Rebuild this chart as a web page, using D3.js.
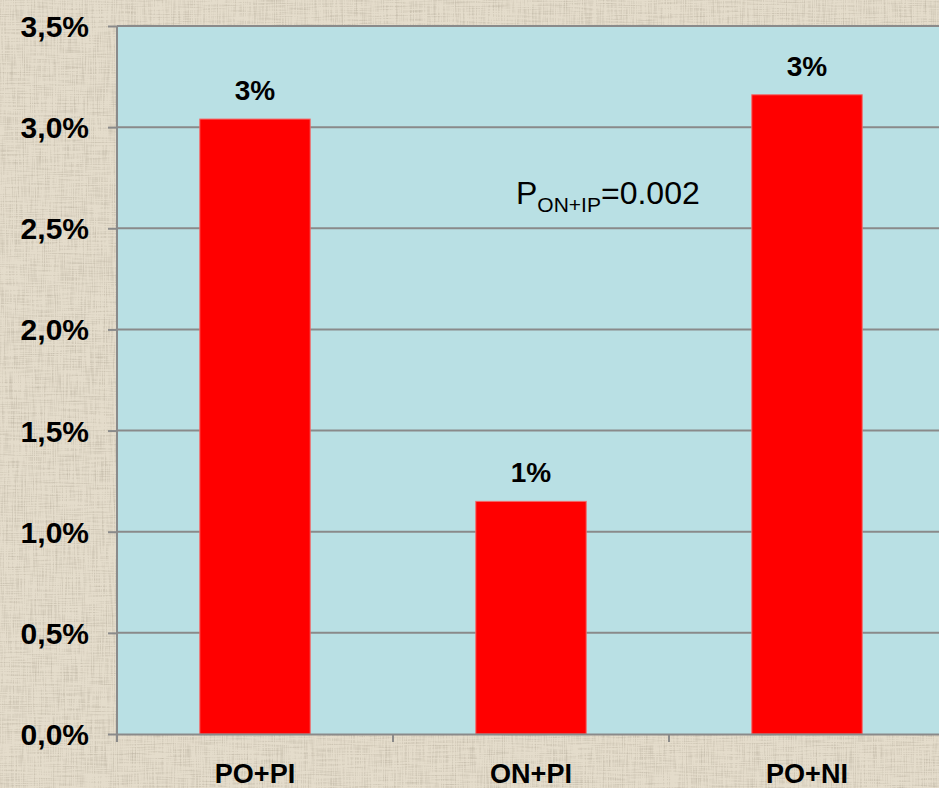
<!DOCTYPE html>
<html>
<head>
<meta charset="utf-8">
<script src="https://cdn.jsdelivr.net/npm/d3@7"></script>
<style>
  html, body { margin: 0; padding: 0; overflow: hidden; background: #ddd4c2; }
  svg { display: block; }
</style>
</head>
<body>
<svg id="chart" width="939" height="788"></svg>
<script>
// Share of patients, by group
const categories = ["PO+PI", "ON+PI", "PO+NI"];
const values = [0.0304, 0.0115, 0.0316];
const yTicks = [0, 0.005, 0.01, 0.015, 0.02, 0.025, 0.03, 0.035];
const pLabel = { main: "P", sub: "ON+IP", rest: "=0.002" };

const W = 939, H = 788;
const margin = { left: 117, top: 26, bottom: 54 };
const plotW = 828; // three category bands, the last one runs past the page edge
const svg = d3.select("#chart");

// Linen-like backdrop
const defs = svg.append("defs");
const f = defs.append("filter").attr("id", "linen")
  .attr("x", 0).attr("y", 0).attr("width", "100%").attr("height", "100%");
f.append("feTurbulence").attr("type", "fractalNoise")
  .attr("baseFrequency", "0.9 0.035").attr("numOctaves", 2).attr("seed", 3).attr("result", "v");
f.append("feTurbulence").attr("type", "fractalNoise")
  .attr("baseFrequency", "0.035 0.9").attr("numOctaves", 2).attr("seed", 7).attr("result", "h");
f.append("feComposite").attr("in", "v").attr("in2", "h")
  .attr("operator", "arithmetic").attr("k2", 0.5).attr("k3", 0.5).attr("result", "n");
f.append("feColorMatrix").attr("in", "n").attr("type", "matrix")
  .attr("values", "0 0 0 0 0.48  0 0 0 0 0.43  0 0 0 0 0.34  -2.8 0 0 0 1.55");
svg.append("rect").attr("width", W).attr("height", H).attr("fill", "#e4dccb");
svg.append("rect").attr("width", W).attr("height", H).attr("filter", "url(#linen)").attr("opacity", 0.7);

const x = d3.scaleBand().domain(categories)
  .range([margin.left, margin.left + plotW])
  .paddingInner(0.6).paddingOuter(0.3);
const y = d3.scaleLinear().domain([0, 0.035]).range([H - margin.bottom, margin.top]);

// Plot area
svg.append("rect")
  .attr("x", margin.left).attr("y", y(0.035))
  .attr("width", plotW).attr("height", y(0) - y(0.035))
  .attr("fill", "#b9e0e4");

// Grid lines
svg.append("g").selectAll("line").data(yTicks.filter(d => d > 0)).join("line")
  .attr("x1", margin.left).attr("x2", margin.left + plotW)
  .attr("y1", d => y(d)).attr("y2", d => y(d))
  .attr("stroke", "#8a8a8a").attr("stroke-width", 2);

// Bars
svg.append("g").selectAll("rect").data(values).join("rect")
  .attr("x", (d, i) => x(categories[i]))
  .attr("y", d => y(d))
  .attr("width", x.bandwidth())
  .attr("height", d => y(0) - y(d))
  .attr("fill", "#ff0000")
  .attr("stroke", "#f26a6a").attr("stroke-width", 1);

// Value labels
const fmtPct = d3.format(".0%");
svg.append("g").selectAll("text").data(values).join("text")
  .attr("x", (d, i) => x(categories[i]) + x.bandwidth() / 2)
  .attr("y", d => y(d) - 19)
  .attr("text-anchor", "middle")
  .attr("font-family", "Liberation Sans, Arial, sans-serif")
  .attr("font-weight", "bold").attr("font-size", 28)
  .attr("fill", "#000")
  .text(d => fmtPct(d));

// Y axis
const fmtAxis = v => d3.format(".1f")(v * 100).replace(".", ",") + "%";
const yAxis = svg.append("g").attr("transform", `translate(${margin.left},0)`)
  .call(d3.axisLeft(y).tickValues(yTicks).tickFormat(fmtAxis).tickSize(9).tickPadding(19));
yAxis.select(".domain").attr("stroke", "#8a8a8a").attr("stroke-width", 2)
  .attr("d", `M0,${y(0.035)}V${y(0) + 8}`);
yAxis.selectAll(".tick line").attr("stroke", "#8a8a8a").attr("stroke-width", 2);
yAxis.selectAll(".tick text")
  .attr("font-family", "Liberation Sans, Arial, sans-serif")
  .attr("font-weight", "bold").attr("font-size", 30).attr("fill", "#000")
  .attr("dy", "0.35em");

// X axis
const xAxis = svg.append("g").attr("transform", `translate(0,${y(0)})`)
  .call(d3.axisBottom(x).tickSize(0).tickPadding(46));
xAxis.select(".domain").attr("stroke", "#8a8a8a").attr("stroke-width", 2);
xAxis.selectAll(".tick text")
  .attr("font-family", "Liberation Sans, Arial, sans-serif")
  .attr("font-weight", "bold").attr("font-size", 27).attr("fill", "#000")
  .attr("dy", "0.1em");
// Category separators
const seps = d3.range(categories.length + 1).map(i => margin.left + i * x.step());
xAxis.append("g").selectAll("line").data(seps).join("line")
  .attr("x1", d => d).attr("x2", d => d).attr("y1", 0).attr("y2", 8)
  .attr("stroke", "#8a8a8a").attr("stroke-width", 2);

// Significance note
const note = svg.append("text")
  .attr("x", 516).attr("y", 204)
  .attr("font-family", "Liberation Sans, Arial, sans-serif")
  .attr("font-size", 32).attr("fill", "#000");
note.append("tspan").text(pLabel.main);
note.append("tspan").attr("font-size", 21).attr("dy", 8).text(pLabel.sub);
note.append("tspan").attr("dy", -8).text(pLabel.rest);
</script>
</body>
</html>
